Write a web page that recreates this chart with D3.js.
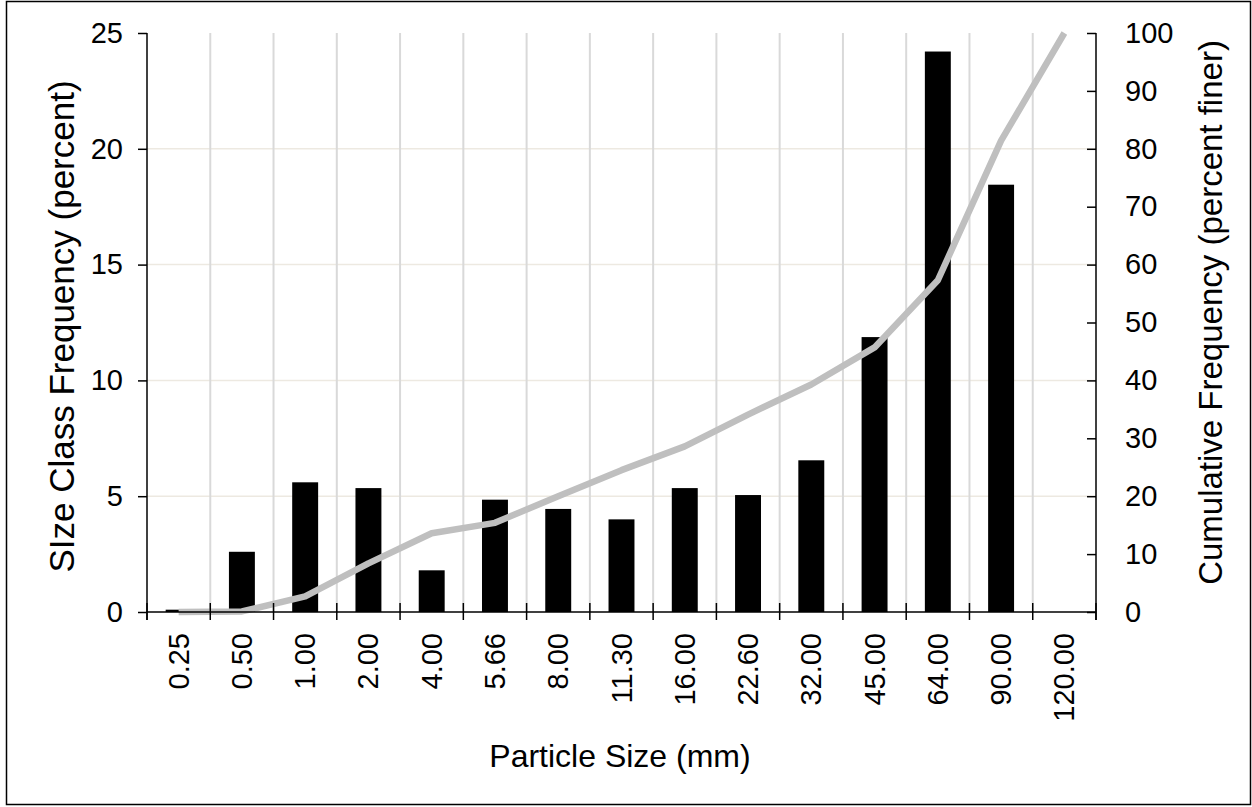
<!DOCTYPE html>
<html><head><meta charset="utf-8">
<script src="https://cdn.jsdelivr.net/npm/d3@7"></script>
<style>html,body{margin:0;padding:0;background:#fff;}svg{display:block;}</style>
</head><body>
<svg id="chart" width="1252" height="807"></svg>
<script>
const sizeClasses = ["0.25","0.50","1.00","2.00","4.00","5.66","8.00","11.30","16.00","22.60","32.00","45.00","64.00","90.00","120.00"];
const classFrequency = [0.1, 2.6, 5.6, 5.35, 1.8, 4.85, 4.45, 4.0, 5.35, 5.05, 6.55, 11.87, 24.2, 18.45, 0];
const cumulativeFiner = [0, 0.1, 2.7, 8.4, 13.6, 15.4, 20.0, 24.5, 28.6, 34.1, 39.3, 45.7, 57.3, 81.4, 100];
const leftTicks = [0, 5, 10, 15, 20, 25];
const rightTicks = [0, 10, 20, 30, 40, 50, 60, 70, 80, 90, 100];

const svg = d3.select("#chart");
const L = 147, R = 1096, T = 33, B = 612;
const FONT = "'Liberation Sans', Arial, sans-serif";
const TICK_FS = "29px", TITLE_FS = "32px";

svg.append("rect").attr("x", 6.5).attr("y", 1.5).attr("width", 1244).attr("height", 803)
  .attr("fill", "#fff").attr("stroke", "#000").attr("stroke-width", 1.5);

const x = d3.scaleBand().domain(sizeClasses).range([L, R]).paddingInner(0).paddingOuter(0);
const yL = d3.scaleLinear().domain([0, 25]).range([B, T]);
const yR = d3.scaleLinear().domain([0, 100]).range([B, T]);

// horizontal gridlines
svg.append("g").selectAll("line").data(leftTicks.filter(d => d > 0 && d < 25)).join("line")
  .attr("x1", L).attr("x2", R).attr("y1", d => yL(d)).attr("y2", d => yL(d))
  .attr("stroke", "#ede9e1").attr("stroke-width", 1.5);

// vertical gridlines at class boundaries
const bounds = sizeClasses.slice(1).map(c => x(c));
svg.append("g").selectAll("line").data(bounds).join("line")
  .attr("x1", d => d).attr("x2", d => d).attr("y1", T).attr("y2", B)
  .attr("stroke", "#d9d9d9").attr("stroke-width", 2);

// bars
const bw = x.bandwidth() * 0.41;
svg.append("g").selectAll("rect").data(classFrequency).join("rect")
  .attr("x", (d, i) => x(sizeClasses[i]) + (x.bandwidth() - bw) / 2)
  .attr("width", bw)
  .attr("y", d => yL(d))
  .attr("height", d => B - yL(d))
  .attr("fill", "#000");

// cumulative line
const line = d3.line()
  .x((d, i) => x(sizeClasses[i]) + x.bandwidth() / 2)
  .y(d => yR(d));
svg.append("path").datum(cumulativeFiner).attr("d", line)
  .attr("fill", "none").attr("stroke", "#bfbfbf").attr("stroke-width", 6.5)
  .attr("stroke-linejoin", "round").attr("stroke-linecap", "butt");

// left axis
const gL = svg.append("g").attr("transform", `translate(${L},0)`)
  .call(d3.axisLeft(yL).tickValues(leftTicks).tickSize(9).tickPadding(15).tickFormat(d3.format("d")));
gL.select(".domain").remove();
gL.append("line").attr("x1", 0).attr("x2", 0).attr("y1", T).attr("y2", B + 8).attr("stroke", "#000").attr("stroke-width", 1.5);

// right axis (ticks inward)
const gR = svg.append("g").attr("transform", `translate(${R},0)`)
  .call(d3.axisRight(yR).tickValues(rightTicks).tickSizeInner(-9).tickSizeOuter(0).tickPadding(29).tickFormat(d3.format("d")));
gR.select(".domain").remove();
gR.append("line").attr("x1", 0).attr("x2", 0).attr("y1", T).attr("y2", B + 8).attr("stroke", "#000").attr("stroke-width", 1.5);

// bottom axis
const gB = svg.append("g").attr("transform", `translate(0,${B})`);
gB.append("line").attr("x1", L).attr("x2", R).attr("y1", 0).attr("y2", 0).attr("stroke", "#000").attr("stroke-width", 1.5);
gB.selectAll("line.tk").data(sizeClasses.map(c => x(c)).concat([R])).join("line").attr("class", "tk")
  .attr("x1", d => d).attr("x2", d => d).attr("y1", -9).attr("y2", 8).attr("stroke", "#000").attr("stroke-width", 1.5);
gB.selectAll("text").data(sizeClasses).join("text")
  .attr("transform", d => `translate(${x(d) + x.bandwidth() / 2 + 10},21) rotate(-90)`)
  .attr("text-anchor", "end")
  .style("font-family", FONT).style("font-size", TICK_FS).attr("fill", "#000")
  .text(d => d);

svg.selectAll(".tick line").attr("stroke", "#000").attr("stroke-width", 1.5);
svg.selectAll(".tick text").style("font-family", FONT).style("font-size", TICK_FS).attr("fill", "#000");

// titles
svg.append("text").attr("x", 620).attr("y", 767).attr("text-anchor", "middle")
  .style("font-family", FONT).style("font-size", TITLE_FS).text("Particle Size (mm)");
svg.append("text").attr("transform", `translate(74,${(T + B) / 2 + 4}) rotate(-90)`).attr("text-anchor", "middle")
  .style("font-family", FONT).style("font-size", "35px").text("SIze Class Frequency (percent)");
svg.append("text").attr("transform", `translate(1222,${(T + B) / 2 - 10}) rotate(-90)`).attr("text-anchor", "middle")
  .style("font-family", FONT).style("font-size", "33px").text("Cumulative Frequency (percent finer)");
</script>
</body></html>
